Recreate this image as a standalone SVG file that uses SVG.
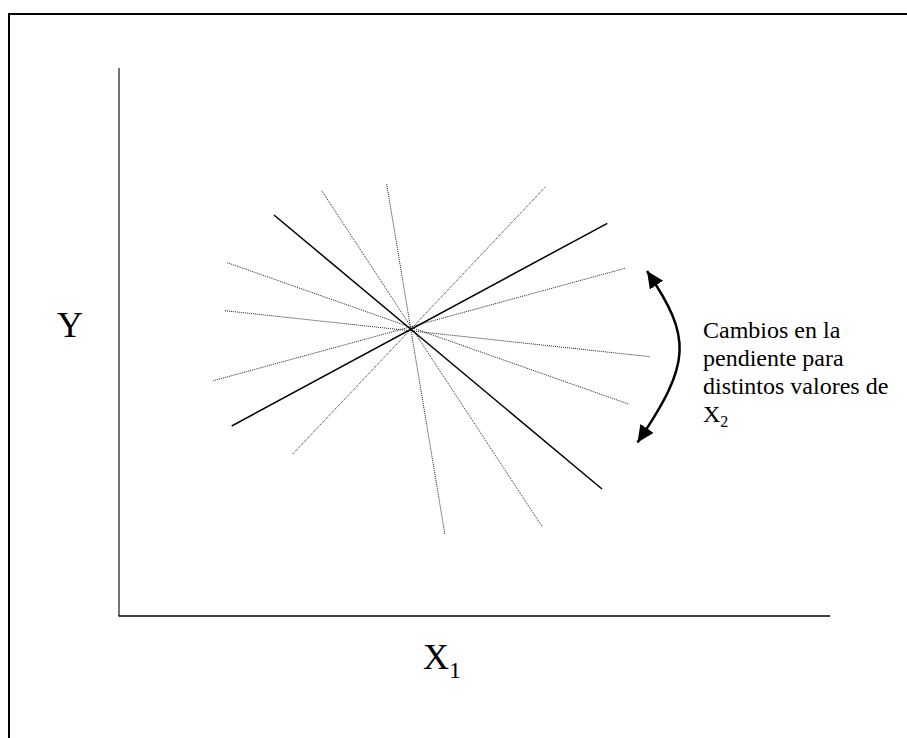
<svg xmlns="http://www.w3.org/2000/svg" width="907" height="738" viewBox="0 0 907 738">
  <style>
    .solid { stroke: #000; stroke-width: 1.5; fill: none; }
    .dot { stroke: #222; stroke-width: 1; stroke-dasharray: 1 1; fill: none; }
    .lbl { font-family: "Liberation Serif", "Times New Roman", serif; fill: #000; }
  </style>
  <defs>
    <marker id="ah" markerUnits="userSpaceOnUse" markerWidth="24" markerHeight="24" refX="17" refY="8" orient="auto-start-reverse">
      <path d="M0,0 L17,8 L0,16 Z" fill="#000"/>
    </marker>
  </defs>
  <rect width="907" height="738" fill="#fff"/>
  <g id="frame">
    <path d="M9,760 L9,14 L930,14" fill="none" stroke="#000" stroke-width="2"/>
  </g>
  <g id="axes">
    <line x1="119" y1="68" x2="119" y2="616" stroke="#444" stroke-width="1.5"/>
    <line x1="118.5" y1="616" x2="830" y2="616" stroke="#000" stroke-width="1.6"/>
  </g>
  <g id="lines">
    <line class="dot" x1="321.7" y1="190.7" x2="541.7" y2="526"/>
    <line class="dot" x1="386.7" y1="184" x2="445" y2="535"/>
    <line class="dot" x1="545" y1="187.3" x2="292.7" y2="454"/>
    <line class="dot" x1="227.3" y1="262.7" x2="629.3" y2="404.3"/>
    <line class="dot" x1="225" y1="310.7" x2="650" y2="356.7"/>
    <line class="dot" x1="213.3" y1="380.7" x2="625" y2="268.3"/>
    <line class="solid" x1="274" y1="215" x2="602" y2="489"/>
    <line class="solid" x1="231.7" y1="426" x2="607.3" y2="223.3"/>
  </g>
  <g id="arrow">
    <path d="M647,271 C692,338 692,362 637.5,442.5" fill="none" stroke="#000" stroke-width="2.5" marker-start="url(#ah)" marker-end="url(#ah)"/>
  </g>
  <g id="labels">
    <text class="lbl" x="57" y="337" font-size="36">Y</text>
    <text class="lbl" x="423" y="669" font-size="36">X<tspan font-size="24" dy="9">1</tspan></text>
    <text class="lbl" font-family="Liberation Serif, serif" font-size="24">
      <tspan x="703" y="338">Cambios en la</tspan>
      <tspan x="703" y="366">pendiente para</tspan>
      <tspan x="703" y="394">distintos valores de</tspan>
      <tspan x="703" y="421.5">X<tspan font-size="16" dy="5">2</tspan></tspan>
    </text>
  </g>
</svg>
